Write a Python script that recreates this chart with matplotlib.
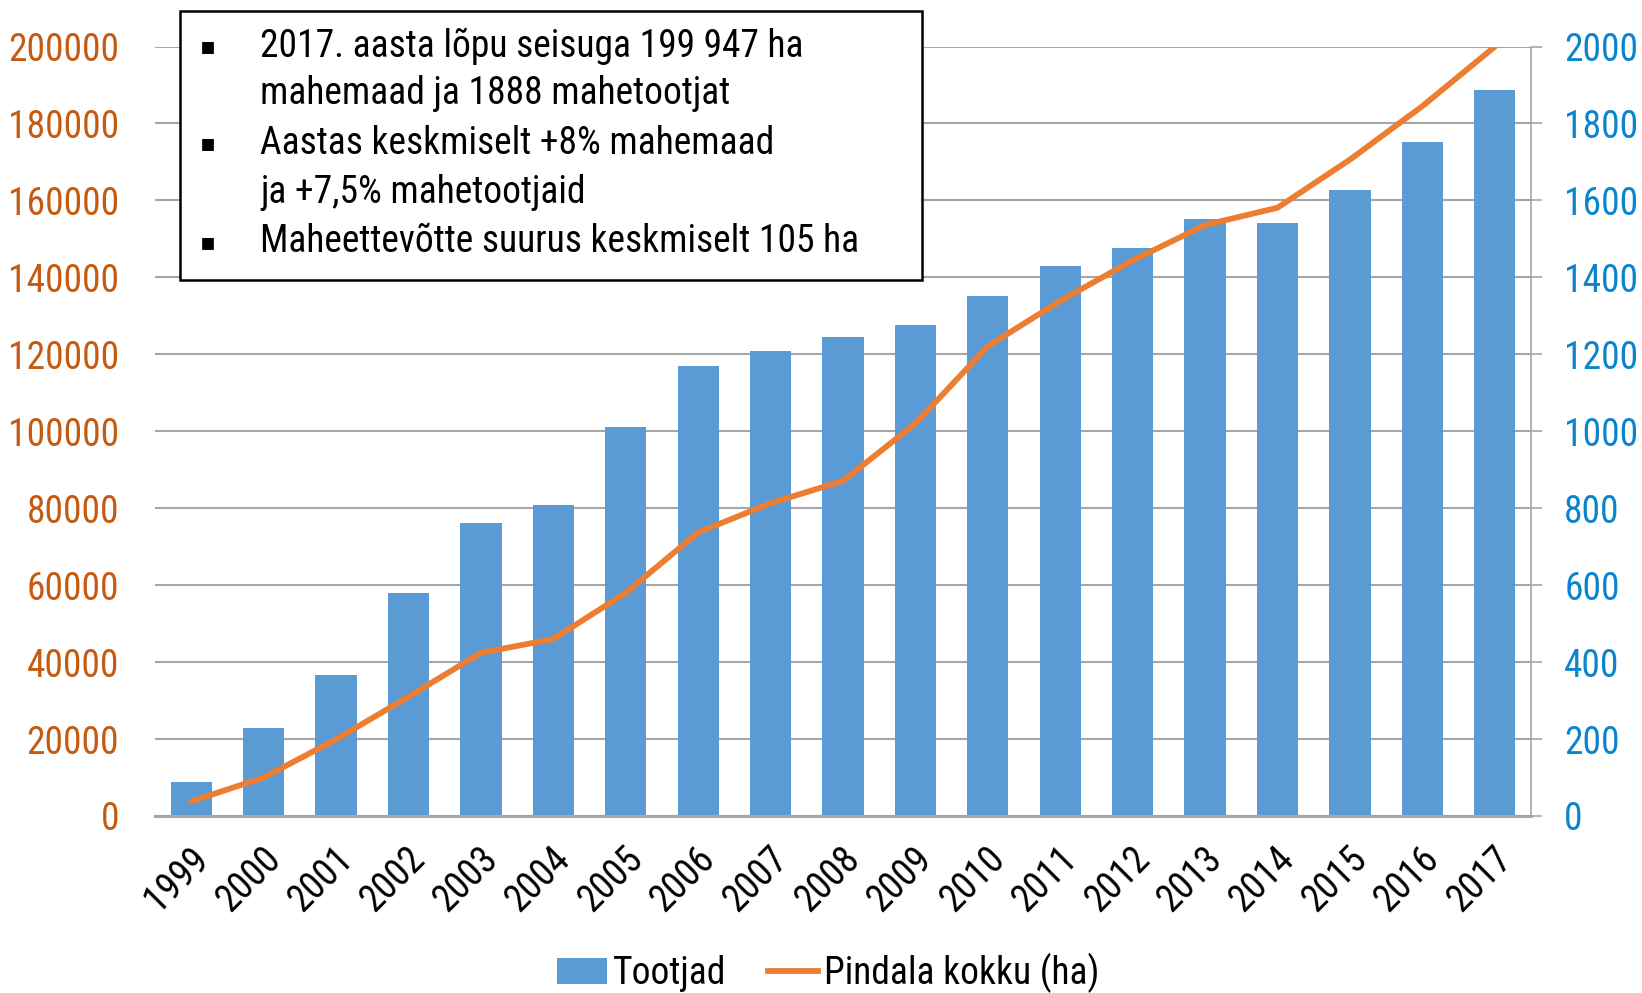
import matplotlib
matplotlib.use("Agg")
import matplotlib.pyplot as plt
import matplotlib.transforms as mtransforms
from matplotlib import font_manager
from matplotlib.patches import Rectangle
from matplotlib.lines import Line2D
from matplotlib.patches import Patch

years = ["1999", "2000", "2001", "2002", "2003", "2004", "2005", "2006", "2007", "2008",
         "2009", "2010", "2011", "2012", "2013", "2014", "2015", "2016", "2017"]
tootjad = [89, 229, 367, 580, 762, 808, 1012, 1170, 1208, 1244,
           1276, 1352, 1429, 1475, 1551, 1541, 1628, 1753, 1888]
pindala = [3800, 10000, 19900, 31000, 42400, 46000, 58000, 73700, 81300, 87100,
           102000, 122100, 133900, 144400, 153600, 158100, 170600, 184500, 199947]
left_ticks = list(range(0, 200001, 20000))
right_ticks = list(range(0, 2001, 200))
box_lines = ["2017. aasta lõpu seisuga 199 947 ha", "mahemaad ja 1888 mahetootjat",
             "Aastas keskmiselt +8% mahemaad", "ja +7,5% mahetootjaid",
             "Maheettevõtte suurus keskmiselt 105 ha"]
box_bullets = [True, False, True, False, True]
legend_labels = ["Tootjad", "Pindala kokku (ha)"]

names = {f.name for f in font_manager.fontManager.ttflist}
cond = "Roboto Condensed" if "Roboto Condensed" in names else "Roboto"
plt.rcParams['font.family'] = [cond, 'DejaVu Sans']

BAR = '#5B9BD5'
LINE = '#ED7D31'
LCOL = '#C55A11'
RCOL = '#0A85CC'
GRID = '#A6A6A6'
FS = 27

fig = plt.figure(figsize=(16.42, 9.93), dpi=100)
W, H = 1642, 993
ax = fig.add_axes([155 / W, 1 - 816 / H, (1531 - 155) / W, (816 - 46.5) / H])
ax2 = ax.twinx()

x = list(range(len(years)))
ax2.bar(x, tootjad, width=0.57, color=BAR, zorder=2)
ax2.set_ylim(0, 2000)
ax2.set_yticks(right_ticks)
ax2.set_yticklabels([str(t) for t in right_ticks], color=RCOL, fontsize=FS)
ax2.yaxis.grid(True, color=GRID, linewidth=1.5, zorder=0)
ax2.set_axisbelow(True)
ax2.tick_params(axis='y', length=8, width=1.2, color=GRID, pad=16)

ax.plot(x, pindala, color=LINE, linewidth=4.2, solid_capstyle='round', zorder=3)
ax.set_ylim(0, 200000)
ax.set_xlim(-0.5, len(years) - 0.5)
ax.set_yticks(left_ticks)
ax.set_yticklabels([str(t) for t in left_ticks], color=LCOL, fontsize=FS)
ax.tick_params(axis='y', length=0, pad=26)
ax.set_zorder(ax2.get_zorder() + 1)
ax.patch.set_visible(False)

ax.set_xticks(x)
ax.set_xticklabels(years, fontsize=FS, rotation=45, ha='right', va='top',
                   rotation_mode='anchor')
ax.tick_params(axis='x', length=0, pad=0)
off = mtransforms.ScaledTranslation(-2 / 100, -24 / 100, fig.dpi_scale_trans)
for lab in ax.get_xticklabels():
    lab.set_transform(lab.get_transform() + off)

for a in (ax, ax2):
    for s in ('top', 'left', 'right', 'bottom'):
        a.spines[s].set_visible(False)
ax2.spines['right'].set_visible(True)
ax2.spines['right'].set_color(GRID)
ax2.spines['right'].set_linewidth(1.2)
ax2.spines['bottom'].set_visible(True)
ax2.spines['bottom'].set_color(GRID)
ax2.spines['bottom'].set_linewidth(2.2)

# text box
fig.patches.append(Rectangle((180 / W, 1 - 280 / H), 742 / W, 269.5 / H,
                             transform=fig.transFigure, facecolor='white',
                             edgecolor='black', linewidth=1.8, zorder=5))
ys = [46, 94, 143.5, 192.5, 242]
for line, b, yy in zip(box_lines, box_bullets, ys):
    fig.text(260 / W, 1 - yy / H, line, fontsize=FS, va='center', ha='left', zorder=6)
    if b:
        fig.text(208 / W, 1 - yy / H, "▪", fontsize=17, va='center', ha='center',
                 zorder=6, family='DejaVu Sans')

handles = [Patch(facecolor=BAR), Line2D([0], [0], color=LINE, linewidth=4.2)]
fig.legend(handles, legend_labels, loc='center', bbox_to_anchor=(828 / W, 1 - 973 / H),
           ncol=2, frameon=False, fontsize=FS, handlelength=1.35, handletextpad=0.15,
           columnspacing=1.1, handleheight=0.65)

fig.savefig("out.png", dpi=100)
